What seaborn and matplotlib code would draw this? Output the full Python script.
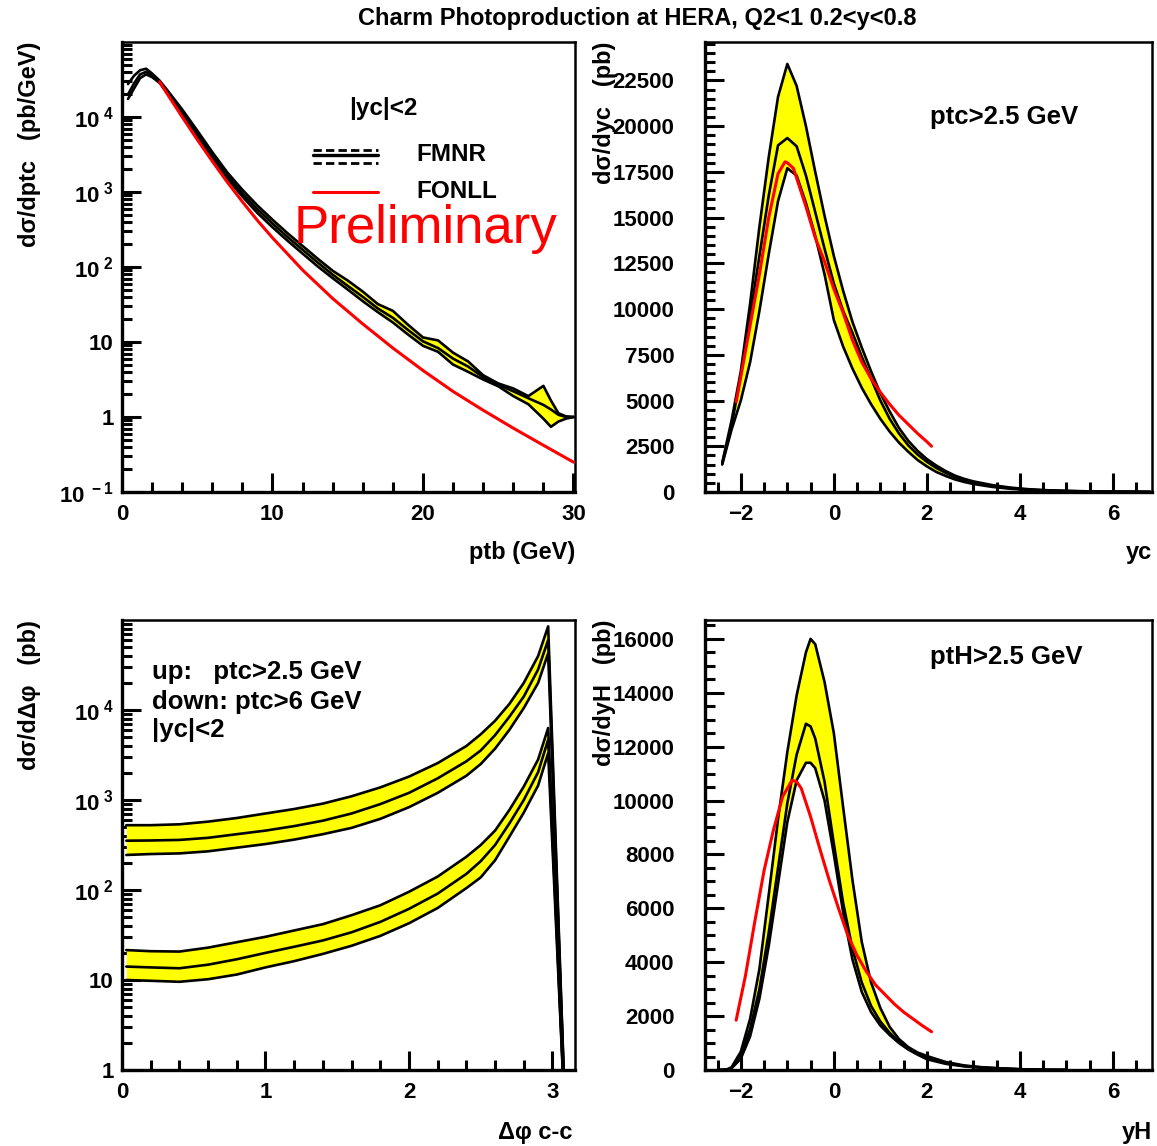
import numpy as np
import pandas as pd
import matplotlib
matplotlib.use("Agg")
import matplotlib.pyplot as plt
import seaborn as sns
from matplotlib.ticker import FixedLocator, MultipleLocator, FixedFormatter, NullFormatter, LogLocator

# ---------------- data ----------------
# d sigma / d ptc  (pb/GeV), FMNR band + FONLL
ptc_x = [0.4, 0.8, 1.2, 1.6, 2.0, 2.5, 3, 4, 5, 6, 7, 8, 9, 10, 11, 12, 13, 14, 15, 16, 17, 18,
         19, 20, 21, 22, 23, 24, 25, 26, 27, 28, 28.5, 29, 29.5, 30]
ptc_central = [2.0e4, 2.8e4, 3.7e4, 4.0e4, 3.55e4, 2.95e4, 2.19e4, 1.17e4, 6.0e3, 3.1e3, 1.66e3, 955,
               589, 380, 251, 170, 115, 79, 56, 40, 28, 21, 14.5, 10.2, 8.3, 6.0, 4.7, 3.4, 2.7, 2.2,
               1.78, 1.45, 1.26, 1.07, 1.0, 1.0]
ptc_lower = [1.74e4, 2.4e4, 3.3e4, 3.7e4, 3.4e4, 2.85e4, 2.09e4, 1.1e4, 5.6e3, 2.8e3, 1.51e3, 870,
             525, 339, 224, 151, 102, 71, 50, 35, 25, 18.2, 12.6, 8.9, 7.4, 5.0, 4.0, 3.16, 2.57, 1.9,
             1.48, 0.95, 0.74, 0.87, 0.95, 1.0]
ptc_upper = [2.75e4, 3.55e4, 4.2e4, 4.4e4, 3.8e4, 3.05e4, 2.29e4, 1.26e4, 6.6e3, 3.4e3, 1.82e3, 1.07e3,
             660, 427, 282, 191, 129, 89, 66, 47, 32, 26, 17, 11.5, 10.5, 7.2, 5.5, 3.6, 2.8, 2.4,
             1.9, 2.6, 1.66, 1.12, 1.02, 1.0]
ptc_fonll_x = [2.5, 3, 4, 5, 6, 7, 8, 9, 10, 12, 14, 16, 18, 20, 22, 24, 26, 28, 30]
ptc_fonll = [2.95e4, 2.04e4, 1.0e4, 5.0e3, 2.57e3, 1.35e3, 741, 417, 245, 91, 38, 17.4, 8.3, 4.17,
             2.19, 1.23, 0.71, 0.42, 0.25]

# d sigma / d yc  (pb)
yc_x = [-2.4, -2.2, -2.0, -1.8, -1.6, -1.4, -1.2, -1.0, -0.8, -0.6, -0.4, -0.2, 0.0, 0.2, 0.4, 0.6,
        0.8, 1.0, 1.2, 1.4, 1.6, 1.8, 2.0, 2.2, 2.4, 2.6, 2.8, 3.0, 3.4, 3.8, 4.2, 4.6, 5.0, 5.5,
        6.0, 6.5, 6.8]
yc_upper = [1600, 3900, 6600, 10300, 14500, 18300, 21600, 23400, 22200, 20000, 17500, 15100, 12900,
            11000, 9300, 7900, 6600, 5400, 4400, 3500, 2800, 2250, 1800, 1450, 1150, 900, 720, 580,
            380, 240, 150, 95, 60, 35, 20, 10, 6]
yc_central = [1550, 3600, 6400, 9600, 12900, 16200, 18950, 19350, 18900, 17300, 15300, 13300, 11400,
              9900, 8700, 7400, 6200, 5000, 4000, 3200, 2550, 2050, 1650, 1320, 1050, 820, 650, 520,
              330, 205, 128, 82, 52, 31, 18, 9, 5]
yc_lower = [1500, 3400, 5000, 7100, 9900, 13000, 15900, 17700, 17300, 15800, 14000, 11900, 9400,
            7950, 6750, 5700, 4800, 4000, 3300, 2700, 2200, 1750, 1400, 1100, 880, 690, 550, 440,
            280, 175, 110, 70, 45, 27, 15, 8, 4]
yc_fonll_x = [-2.1, -2.0, -1.8, -1.6, -1.4, -1.2, -1.05, -1.0, -0.87, -0.6, -0.4, -0.2, 0.0, 0.2,
              0.4, 0.6, 0.8, 1.0, 1.2, 1.4, 1.6, 1.8, 2.0, 2.1]
yc_fonll = [4930, 6300, 9100, 11900, 15000, 17400, 18050, 18000, 17700, 15600, 13900, 12600, 11100,
            9800, 8300, 7100, 6200, 5450, 4800, 4200, 3700, 3200, 2750, 2500]

# d sigma / d delta-phi  (pb), upper pair: ptc>2.5 GeV, lower pair: ptc>6 GeV
dphi_x = [0.03, 0.2, 0.4, 0.6, 0.8, 1.0, 1.2, 1.4, 1.6, 1.8, 2.0, 2.2, 2.4, 2.5, 2.6, 2.7, 2.8,
          2.9, 2.97, 3.1]
dphi_hi_upper = [525, 525, 537, 575, 631, 708, 794, 912, 1100, 1380, 1820, 2570, 3980, 5370, 7590,
                 11700, 20000, 39800, 85000, 0.1]
dphi_hi_central = [353, 355, 360, 380, 417, 457, 513, 589, 708, 900, 1200, 1740, 2690, 3550, 5250,
                   8430, 14100, 28200, 60000, 0.1]
dphi_hi_lower = [245, 251, 255, 269, 295, 324, 363, 417, 490, 617, 832, 1200, 1860, 2510, 3720, 6030,
                 10500, 20000, 42700, 0.1]
dphi_lo_upper = [21.5, 20.9, 20.7, 22.9, 26.3, 30.2, 35.5, 41.7, 52.5, 67.6, 95.5, 141, 234, 316, 457,
                 776, 1410, 2820, 6310, 0.1]
dphi_lo_central = [14.1, 13.8, 13.5, 14.8, 17.0, 20.0, 23.4, 27.5, 33.9, 44.2, 61.7, 91.2, 151, 209,
                   316, 550, 1000, 2040, 4680, 0.1]
dphi_lo_lower = [10.0, 9.8, 9.55, 10.2, 11.5, 13.8, 16.2, 19.5, 24.0, 30.9, 42.7, 63.1, 105, 138, 214,
                 392, 724, 1450, 3310, 0.1]

# d sigma / d yH  (pb)
yh_x = [-2.5, -2.3, -2.2, -2.0, -1.8, -1.6, -1.4, -1.2, -1.0, -0.8, -0.6, -0.5, -0.4, -0.2, 0.0, 0.2,
        0.4, 0.6, 0.8, 1.0, 1.2, 1.4, 1.6, 1.8, 2.0, 2.4, 2.8, 3.2, 3.6, 4.0, 4.5, 5.0]
yh_upper = [0, 20, 100, 680, 1900, 3750, 6500, 9300, 11800, 13900, 15500, 16000, 15800, 14400, 12500,
            9750, 7050, 4750, 3250, 2300, 1600, 1150, 850, 650, 520, 300, 170, 100, 60, 30, 10, 3]
yh_central = [0, 15, 80, 540, 1520, 3000, 5100, 7500, 9900, 11700, 12850, 12750, 12300, 10700, 8400,
              6200, 4500, 3250, 2380, 1800, 1380, 1050, 800, 600, 460, 260, 150, 90, 55, 28, 9, 3]
yh_lower = [0, 5, 60, 420, 1250, 2650, 4600, 6900, 9200, 10750, 11400, 11400, 11200, 10000, 8000,
            5850, 4100, 2900, 2150, 1650, 1300, 1000, 760, 570, 400, 230, 135, 80, 48, 24, 8, 2]
yh_fonll_x = [-2.1, -1.9, -1.7, -1.5, -1.3, -1.1, -0.9, -0.8, -0.7, -0.5, -0.3, -0.1, 0.1, 0.3, 0.5,
              0.7, 0.9, 1.1, 1.3, 1.5, 1.7, 1.9, 2.1]
yh_fonll = [1850, 3500, 5500, 7400, 8900, 10150, 10750, 10700, 10450, 9400, 8200, 7050, 6000, 5000,
            4250, 3650, 3150, 2800, 2450, 2150, 1900, 1650, 1420]

# ---------------- style ----------------
sns.set_theme(style="ticks")
plt.rcParams["font.family"] = ["Liberation Sans", "DejaVu Sans"]
plt.rcParams["font.weight"] = "bold"
plt.rcParams["mathtext.fontset"] = "custom"
plt.rcParams["mathtext.rm"] = "Liberation Sans:bold"
plt.rcParams["mathtext.bf"] = "Liberation Sans:bold"
plt.rcParams["mathtext.it"] = "Liberation Sans:bold:italic"
plt.rcParams["axes.edgecolor"] = "black"
plt.rcParams["text.color"] = "black"
plt.rcParams["axes.labelcolor"] = "black"
plt.rcParams["xtick.color"] = "black"
plt.rcParams["ytick.color"] = "black"

YELLOW = "#FFFF00"
RED = "#FF0000"
W, H = 1157, 1146

fig = plt.figure(figsize=(W / 100, H / 100), dpi=100)
fig.patch.set_facecolor("white")


def px_axes(l, t, r, b):
    return fig.add_axes([l / W, 1 - b / H, (r - l) / W, (b - t) / H])


def style(ax, ypad):
    for s in ["left", "bottom"]:
        ax.spines[s].set_linewidth(2.4)
    for s in ["top", "right"]:
        ax.spines[s].set_linewidth(1.8)
    ax.tick_params(which="both", direction="in", top=False, right=False, colors="black", width=2.2)
    ax.tick_params(which="major", length=14, labelsize=16)
    ax.tick_params(which="minor", length=7)
    ax.tick_params(axis="x", pad=9)
    ax.tick_params(axis="y", pad=ypad)
    ax.set_xlabel("")
    ax.set_ylabel("")
    ax.grid(False)


def band(ax, x, lo, c, up, fill_from=None):
    xs = np.asarray(x)
    lo_a, up_a = np.asarray(lo), np.asarray(up)
    where = None if fill_from is None else xs >= fill_from
    ax.fill_between(xs, lo_a, up_a, where=where, color=YELLOW, lw=0, zorder=1)
    df = pd.DataFrame({
        "x": list(x) * 3,
        "y": list(lo) + list(c) + list(up),
        "curve": ["lower"] * len(x) + ["central"] * len(x) + ["upper"] * len(x),
    })
    sns.lineplot(data=df, x="x", y="y", units="curve", estimator=None, sort=False,
                 color="black", lw=1.9, ax=ax, legend=False, zorder=3)


def red_line(ax, x, y):
    sns.lineplot(x=x, y=y, color=RED, lw=2.2, ax=ax, estimator=None, sort=False, zorder=4)


def log_labels(ax, vals, labels):
    ax.yaxis.set_major_locator(FixedLocator(vals))
    ax.yaxis.set_major_formatter(FixedFormatter(labels))
    ax.yaxis.set_minor_locator(LogLocator(base=10, subs=np.arange(2, 10), numticks=20))
    ax.yaxis.set_minor_formatter(NullFormatter())


ANN = 18.5
LAB = 17

# ---- top-left: ptc ----
ax1 = px_axes(122, 42, 575, 492)
band(ax1, ptc_x, ptc_lower, ptc_central, ptc_upper, fill_from=2.5)
red_line(ax1, ptc_fonll_x, ptc_fonll)
ax1.set_yscale("log")
ax1.set_xlim(0, 30.1)
ax1.set_ylim(0.1, 1e5)
log_labels(ax1, [0.1, 1, 10, 100, 1e3, 1e4],
           [r"$10^{\ -1}$", "1", "10", r"$10^{\ 2}$", r"$10^{\ 3}$", r"$10^{\ 4}$"])
ax1.xaxis.set_major_locator(FixedLocator([0, 10, 20, 30]))
ax1.xaxis.set_minor_locator(MultipleLocator(2))
style(ax1, 6)
ax1.text(0.576, 0.853, "|yc|<2", transform=ax1.transAxes, ha="center", va="center", fontsize=17.5)
ax1.plot([0.4216, 0.565], [0.761, 0.761], transform=ax1.transAxes, color="black", lw=2, ls=(0, (3, 1.5)))
ax1.plot([0.4216, 0.565], [0.749, 0.749], transform=ax1.transAxes, color="black", lw=2.4)
ax1.plot([0.4216, 0.565], [0.731, 0.731], transform=ax1.transAxes, color="black", lw=2, ls=(0, (3, 1.5)))
ax1.text(0.649, 0.749, "FMNR", transform=ax1.transAxes, ha="left", va="center", fontsize=17.5)
ax1.plot([0.4216, 0.565], [0.667, 0.667], transform=ax1.transAxes, color=RED, lw=2.2)
ax1.text(0.649, 0.667, "FONLL", transform=ax1.transAxes, ha="left", va="center", fontsize=17.5)
ax1.text(0.378, 0.585, "Preliminary", transform=ax1.transAxes, ha="left", va="center",
         fontsize=38, color=RED, fontweight="normal", zorder=6)

# ---- top-right: yc ----
ax2 = px_axes(705, 42, 1152, 492)
band(ax2, yc_x, yc_lower, yc_central, yc_upper)
red_line(ax2, yc_fonll_x, yc_fonll)
ax2.set_xlim(-2.77, 6.84)
ax2.set_ylim(0, 24600)
ax2.yaxis.set_major_locator(MultipleLocator(2500))
ax2.yaxis.set_minor_locator(MultipleLocator(500))
ax2.xaxis.set_major_locator(MultipleLocator(2))
ax2.xaxis.set_minor_locator(MultipleLocator(0.5))
style(ax2, 22)
ax2.text(0.503, 0.833, "ptc>2.5 GeV", transform=ax2.transAxes, ha="left", va="center", fontsize=ANN)

# ---- bottom-left: delta phi ----
ax3 = px_axes(122, 620, 575, 1070)
band(ax3, dphi_x, dphi_hi_lower, dphi_hi_central, dphi_hi_upper)
band(ax3, dphi_x, dphi_lo_lower, dphi_lo_central, dphi_lo_upper)
ax3.set_yscale("log")
ax3.set_xlim(0, 3.157)
ax3.set_ylim(1, 1e5)
log_labels(ax3, [1, 10, 100, 1e3, 1e4], ["1", "10", r"$10^{\ 2}$", r"$10^{\ 3}$", r"$10^{\ 4}$"])
ax3.xaxis.set_major_locator(MultipleLocator(1))
ax3.xaxis.set_minor_locator(MultipleLocator(0.2))
style(ax3, 6)
ax3.text(0.066, 0.884, "up:   ptc>2.5 GeV", transform=ax3.transAxes, ha="left", va="center", fontsize=ANN)
ax3.text(0.066, 0.818, "down: ptc>6 GeV", transform=ax3.transAxes, ha="left", va="center", fontsize=ANN)
ax3.text(0.066, 0.756, "|yc|<2", transform=ax3.transAxes, ha="left", va="center", fontsize=ANN)

# ---- bottom-right: yH ----
ax4 = px_axes(705, 620, 1152, 1070)
band(ax4, yh_x, yh_lower, yh_central, yh_upper)
red_line(ax4, yh_fonll_x, yh_fonll)
ax4.set_xlim(-2.77, 6.84)
ax4.set_ylim(0, 16700)
ax4.yaxis.set_major_locator(MultipleLocator(2000))
ax4.yaxis.set_minor_locator(MultipleLocator(500))
ax4.xaxis.set_major_locator(MultipleLocator(2))
ax4.xaxis.set_minor_locator(MultipleLocator(0.5))
style(ax4, 22)
ax4.text(0.503, 0.918, "ptH>2.5 GeV", transform=ax4.transAxes, ha="left", va="center", fontsize=ANN)

# ---- axis titles (ROOT style: at the end of the axes) ----
fig.text(30 / W, 1 - 42 / H, "d\u03c3/dptc   (pb/GeV)", rotation=90, ha="center", va="top", fontsize=LAB)
fig.text(575 / W, 1 - 552 / H, "ptb (GeV)", ha="right", va="center", fontsize=LAB)
fig.text(605 / W, 1 - 42 / H, "d\u03c3/dyc   (pb)", rotation=90, ha="center", va="top", fontsize=LAB)
fig.text(1152 / W, 1 - 552 / H, "yc", ha="right", va="center", fontsize=LAB)
fig.text(30 / W, 1 - 620 / H, "d\u03c3/d\u0394\u03c6   (pb)", rotation=90, ha="center", va="top", fontsize=LAB)
fig.text(572 / W, 1 - 1132 / H, "\u0394\u03c6 c-c", ha="right", va="center", fontsize=LAB)
fig.text(605 / W, 1 - 620 / H, "d\u03c3/dyH   (pb)", rotation=90, ha="center", va="top", fontsize=LAB)
fig.text(1152 / W, 1 - 1132 / H, "yH", ha="right", va="center", fontsize=LAB)

fig.text(637 / W, 1 - 18 / H, "Charm Photoproduction at HERA, Q2<1 0.2<y<0.8",
         ha="center", va="center", fontsize=17)

fig.savefig("out.png", dpi=100, facecolor="white")
